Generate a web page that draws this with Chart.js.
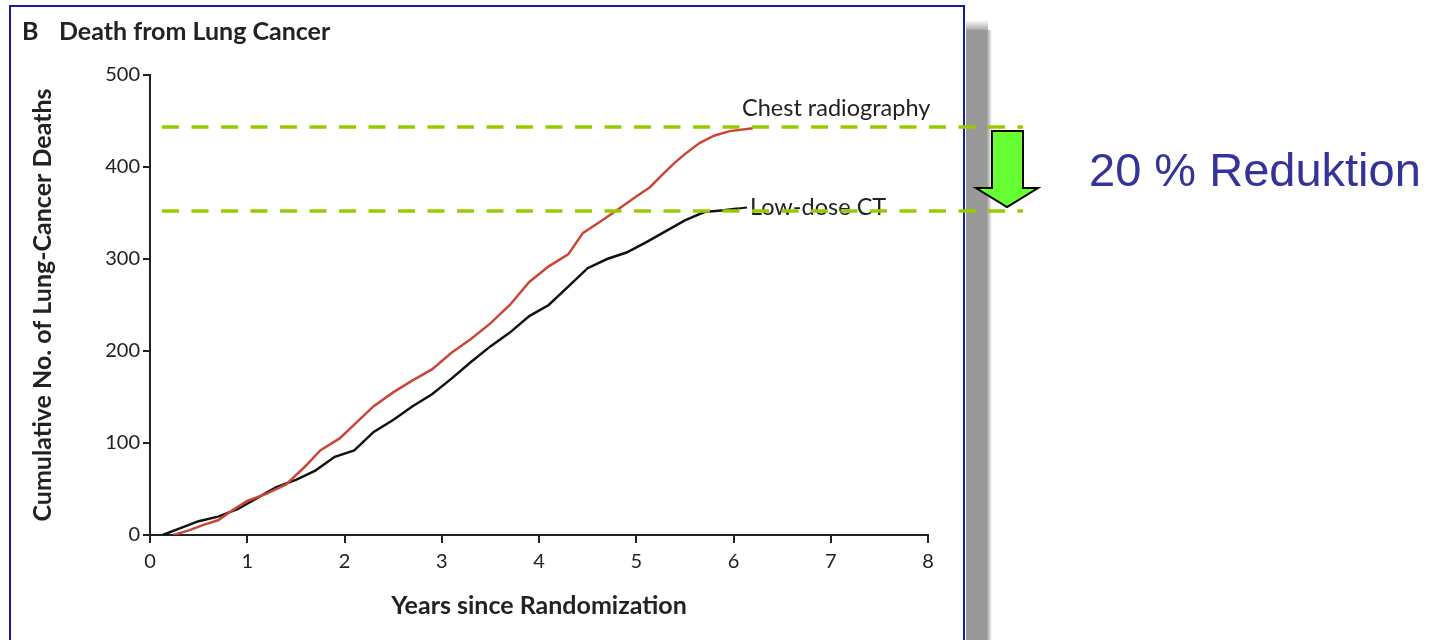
<!DOCTYPE html>
<html>
<head>
<meta charset="utf-8">
<title>Death from Lung Cancer</title>
<script src="https://cdn.jsdelivr.net/npm/chart.js@4.4.1/dist/chart.umd.min.js"></script>
<style>
  html, body { margin: 0; padding: 0; background: #fff; }
  #wrap { width: 1429px; height: 640px; position: relative; }
</style>
</head>
<body>
<div id="wrap"><canvas id="lungChart" width="1429" height="640"></canvas></div>
<script>
// data (years since randomization -> cumulative deaths)
const chestYears = [0.24, 0.4, 0.55, 0.7, 0.85, 1.0, 1.2, 1.4, 1.6, 1.75, 1.95, 2.1, 2.3, 2.5, 2.7, 2.9, 3.1, 3.3, 3.5, 3.7, 3.9, 4.1, 4.3, 4.45, 4.62, 4.8, 5.0, 5.14, 5.3, 5.4, 5.5, 5.65, 5.8, 5.96, 6.2];
const chestDeaths = [0, 5, 11, 16, 27, 37, 45, 55, 75, 92, 105, 120, 140, 155, 168, 180, 198, 213, 230, 250, 275, 292, 305, 328, 340, 353, 368, 378, 395, 405, 414, 426, 434, 439, 442];

const ctYears = [0.13, 0.3, 0.5, 0.7, 0.9, 1.1, 1.3, 1.5, 1.7, 1.9, 2.1, 2.3, 2.5, 2.7, 2.9, 3.1, 3.3, 3.5, 3.7, 3.9, 4.1, 4.3, 4.5, 4.7, 4.9, 5.1, 5.3, 5.5, 5.7, 5.9, 6.05];
const ctDeaths = [0, 7, 15, 20, 28, 40, 52, 60, 70, 85, 92, 112, 125, 140, 153, 170, 188, 205, 220, 238, 250, 270, 290, 300, 307, 318, 330, 342, 351, 353, 355];

const xTicks = [0, 1, 2, 3, 4, 5, 6, 7, 8];
const yTicks = [0, 100, 200, 300, 400, 500];

// the two reference levels marked with dashed green lines
const chestLevel = 443;
const ctLevel = 352;

const textColor = "#222";

const toPoints = (xs, ys) => xs.map((x, i) => ({ x: x, y: ys[i] }));

// frame, labels, dashed levels, arrow and the note on the right
const decorations = {
    id: "decorations",
    beforeDraw(chart) {
        const c = chart.ctx;
        c.save();
        // shadow strip right of the frame
        const g = c.createLinearGradient(966, 0, 992, 0);
        g.addColorStop(0, "#999");
        g.addColorStop(0.8, "#999");
        g.addColorStop(1, "rgba(153,153,153,0)");
        c.fillStyle = g;
        c.fillRect(966, 30, 26, 610);
        const gt = c.createLinearGradient(0, 20, 0, 32);
        gt.addColorStop(0, "rgba(153,153,153,0)");
        gt.addColorStop(1, "#999");
        c.fillStyle = gt;
        c.fillRect(966, 20, 22, 10);
        // frame
        c.strokeStyle = "#1a1a9c";
        c.lineWidth = 2;
        c.beginPath();
        c.moveTo(10, 645);
        c.lineTo(10, 6);
        c.lineTo(964, 6);
        c.lineTo(964, 645);
        c.stroke();
        // title
        c.fillStyle = textColor;
        c.textBaseline = "alphabetic";
        c.font = "bold 25px Lato";
        c.fillText("B", 22, 40);
        c.fillText("Death from Lung Cancer", 59, 40);
        c.restore();
    },
    afterDatasetsDraw(chart) {
        const c = chart.ctx;
        const y = chart.scales.y;
        const x = chart.scales.x;
        c.save();
        // series labels
        c.fillStyle = textColor;
        c.font = "23.5px Lato";
        c.textBaseline = "alphabetic";
        c.fillText("Chest radiography", 742, 116);
        c.fillText("Low-dose CT", 750, 215);
        // leader from the CT curve end
        const lastX = ctYears[ctYears.length - 1];
        const lastY = ctDeaths[ctDeaths.length - 1];
        c.strokeStyle = "#111";
        c.lineWidth = 2;
        c.beginPath();
        c.moveTo(x.getPixelForValue(lastX), y.getPixelForValue(lastY));
        c.lineTo(747, y.getPixelForValue(lastY) - 1);
        c.stroke();
        // dashed levels
        c.strokeStyle = "#99cc00";
        c.lineWidth = 3.5;
        c.setLineDash([17, 12.5]);
        [chestLevel, ctLevel].forEach((v) => {
            const py = Math.round(y.getPixelForValue(v));
            c.beginPath();
            c.moveTo(162, py);
            c.lineTo(1023, py);
            c.stroke();
        });
        c.setLineDash([]);
        // arrow
        c.fillStyle = "#66ff33";
        c.strokeStyle = "#000";
        c.lineWidth = 2;
        c.beginPath();
        c.moveTo(992, 131);
        c.lineTo(1023, 131);
        c.lineTo(1023, 188);
        c.lineTo(1038, 188);
        c.lineTo(1007, 207);
        c.lineTo(976, 188);
        c.lineTo(992, 188);
        c.closePath();
        c.fill();
        c.stroke();
        // note
        c.fillStyle = "#333399";
        c.font = "47px 'Liberation Sans', Arial, sans-serif";
        c.fillText("20 % Reduktion", 1089, 186);
        c.restore();
    }
};

const ctx = document.getElementById("lungChart").getContext("2d");
new Chart(ctx, {
    type: "line",
    data: {
        datasets: [
            {
                label: "Chest radiography",
                data: toPoints(chestYears, chestDeaths),
                borderColor: "#cc4638",
                borderWidth: 2.5,
                pointRadius: 0,
                tension: 0,
                fill: false,
            },
            {
                label: "Low-dose CT",
                data: toPoints(ctYears, ctDeaths),
                borderColor: "#111",
                borderWidth: 2.5,
                pointRadius: 0,
                tension: 0,
                fill: false,
            },
        ],
    },
    options: {
        responsive: false,
        animation: false,
        layout: { padding: { left: 0, top: 75, right: 501, bottom: 0 } },
        plugins: {
            legend: { display: false },
            tooltip: { enabled: false },
        },
        scales: {
            x: {
                type: "linear",
                min: 0,
                max: 8,
                afterFit: (s) => { s.height = 105; },
                afterBuildTicks: (s) => { s.ticks = xTicks.map((v) => ({ value: v })); },
                ticks: { color: textColor, font: { family: "Lato", size: 20 }, padding: 7 },
                grid: { drawOnChartArea: false, drawTicks: true, tickLength: 8, color: textColor, lineWidth: 2 },
                border: { color: textColor, width: 2 },
                title: {
                    display: true,
                    text: "Years since Randomization",
                    color: textColor,
                    font: { family: "Lato", size: 25, weight: "bold" },
                    padding: { top: 0, bottom: 19 },
                },
            },
            y: {
                min: 0,
                max: 500,
                afterFit: (s) => { s.width = 150; },
                afterBuildTicks: (s) => { s.ticks = yTicks.map((v) => ({ value: v })); },
                ticks: { color: textColor, font: { family: "Lato", size: 20 }, padding: 3 },
                grid: { drawOnChartArea: false, drawTicks: true, tickLength: 7, color: textColor, lineWidth: 2 },
                border: { color: textColor, width: 2 },
                title: {
                    display: true,
                    text: "Cumulative No. of Lung-Cancer Deaths",
                    color: textColor,
                    font: { family: "Lato", size: 25, weight: "bold" },
                    padding: { top: 28, bottom: 0 },
                },
            },
        },
    },
    plugins: [decorations],
});
</script>
</body>
</html>
